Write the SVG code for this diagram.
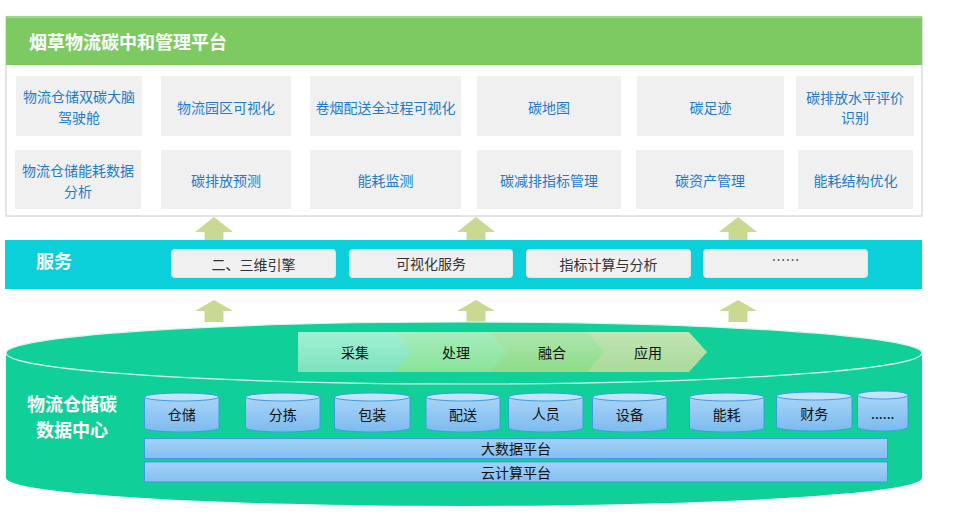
<svg xmlns="http://www.w3.org/2000/svg" width="966" height="523" viewBox="0 0 966 523">
<defs>
<linearGradient id="gCyl" x1="0" y1="0" x2="0" y2="1"><stop offset="0" stop-color="#a9d4f7"/><stop offset="1" stop-color="#7bbbee"/></linearGradient>
<linearGradient id="gBar" x1="0" y1="0" x2="0" y2="1"><stop offset="0" stop-color="#a3d2f8"/><stop offset="1" stop-color="#83bfef"/></linearGradient>
<linearGradient id="gC1" x1="0" y1="0" x2="0" y2="1"><stop offset="0" stop-color="#a2f0d3"/><stop offset="1" stop-color="#7de2bd"/></linearGradient>
<linearGradient id="gC2" x1="0" y1="0" x2="0" y2="1"><stop offset="0" stop-color="#a8edbe"/><stop offset="1" stop-color="#88e39a"/></linearGradient>
<linearGradient id="gC3" x1="0" y1="0" x2="0" y2="1"><stop offset="0" stop-color="#ade6ae"/><stop offset="1" stop-color="#8edc88"/></linearGradient>
<linearGradient id="gC4" x1="0" y1="0" x2="0" y2="1"><stop offset="0" stop-color="#c0e4b4"/><stop offset="1" stop-color="#a9db98"/></linearGradient>
</defs>
<style>
.mod{fill:#f0f0f0}
.mt{font-family:"Noto Sans CJK SC","Noto Sans",sans-serif;font-size:14px;fill:#1f7bcb;text-anchor:middle;dominant-baseline:central}
.svc{fill:#f0f0f0;stroke:#e6e6e6;stroke-width:1}
.st{font-family:"Noto Sans CJK SC","Noto Sans",sans-serif;font-size:14px;fill:#333;text-anchor:middle;dominant-baseline:central}
.bt{font-family:"Noto Sans CJK SC","Noto Sans",sans-serif;font-size:14px;fill:#111;text-anchor:middle;dominant-baseline:central}
.wt{font-family:"Noto Sans CJK SC","Noto Sans",sans-serif;font-weight:bold;fill:#fff;dominant-baseline:central}
.arr{fill:#c9d991}
.cyl{fill:url(#gCyl);stroke:#3d9ce0;stroke-width:1}
.cylt{fill:#c4e2fa;stroke:#3d9ce0;stroke-width:1}
.bar{fill:url(#gBar);stroke:#3d9ce0;stroke-width:1}
</style>

<g id="platform">
<rect x="6" y="16.5" width="916" height="199.5" fill="#fff" stroke="#dcdcdc" stroke-width="1.5"/>
<rect x="6" y="18" width="916" height="47" fill="#7dca63"/>
<line x1="6" y1="17" x2="922" y2="17" stroke="#86cf6d" stroke-width="1.5"/>
<text class="wt" x="29" y="41" font-size="18">烟草物流碳中和管理平台</text>
</g>

<g id="m1"><rect class="mod" x="16" y="76" width="126" height="60"/><text class="mt"><tspan x="79" y="96">物流仓储双碳大脑</tspan><tspan x="79" y="116.5">驾驶舱</tspan></text></g>
<g id="m2"><rect class="mod" x="161" y="76" width="130" height="60"/><text class="mt" x="226" y="107">物流园区可视化</text></g>
<g id="m3"><rect class="mod" x="310" y="76" width="151" height="60"/><text class="mt" x="385.5" y="107">卷烟配送全过程可视化</text></g>
<g id="m4"><rect class="mod" x="477" y="76" width="144" height="60"/><text class="mt" x="549" y="107">碳地图</text></g>
<g id="m5"><rect class="mod" x="637" y="76" width="147" height="60"/><text class="mt" x="710.5" y="107">碳足迹</text></g>
<g id="m6"><rect class="mod" x="796" y="76" width="118" height="60"/><text class="mt"><tspan x="855" y="96.5">碳排放水平评价</tspan><tspan x="855" y="117">识别</tspan></text></g>
<g id="m7"><rect class="mod" x="15" y="150" width="126" height="59"/><text class="mt"><tspan x="78" y="170">物流仓储能耗数据</tspan><tspan x="78" y="190.5">分析</tspan></text></g>
<g id="m8"><rect class="mod" x="161" y="150" width="130" height="59"/><text class="mt" x="226" y="180">碳排放预测</text></g>
<g id="m9"><rect class="mod" x="310" y="150" width="151" height="59"/><text class="mt" x="385.5" y="180">能耗监测</text></g>
<g id="m10"><rect class="mod" x="477" y="150" width="144" height="59"/><text class="mt" x="549" y="180">碳减排指标管理</text></g>
<g id="m11"><rect class="mod" x="636" y="150" width="148" height="59"/><text class="mt" x="710" y="180">碳资产管理</text></g>
<g id="m12"><rect class="mod" x="798" y="150" width="115" height="59"/><text class="mt" x="855.5" y="180">能耗结构优化</text></g>

<g id="service">
<rect x="5" y="240" width="917" height="49" fill="#0bd0d9"/>
<text class="wt" x="36" y="260" font-size="18">服务</text>
</g>
<g id="s1"><rect class="svc" x="171.5" y="249.5" width="164" height="28" rx="3"/><text class="st" x="253.5" y="264">二、三维引擎</text></g>
<g id="s2"><rect class="svc" x="349.5" y="249.5" width="163" height="28" rx="3"/><text class="st" x="431" y="263">可视化服务</text></g>
<g id="s3"><rect class="svc" x="526.5" y="249.5" width="164" height="28" rx="3"/><text class="st" x="608.5" y="264">指标计算与分析</text></g>
<g id="s4"><rect class="svc" x="703.5" y="249.5" width="164" height="28" rx="3"/><text class="st" x="785.5" y="259">……</text></g>

<g id="connectors">
<path class="arr" d="M214 217 L233 232 L223.5 232 L223.5 240 L204.5 240 L204.5 232 L195 232 Z"/>
<path class="arr" d="M476 217 L495 232 L485.5 232 L485.5 240 L466.5 240 L466.5 232 L457 232 Z"/>
<path class="arr" d="M738 217 L757 232 L747.5 232 L747.5 240 L728.5 240 L728.5 232 L719 232 Z"/>
<path class="arr" d="M214 300 L233 311 L223.5 311 L223.5 322 L204.5 322 L204.5 311 L195 311 Z"/>
<path class="arr" d="M476 300 L495 311 L485.5 311 L485.5 322 L466.5 322 L466.5 311 L457 311 Z"/>
<path class="arr" d="M738 300 L757 311 L747.5 311 L747.5 322 L728.5 322 L728.5 311 L719 311 Z"/>
</g>

<g id="datacenter">
<path d="M6 353 L6 478 A458 28 0 0 0 922 478 L922 353 Z" fill="#11cf98"/>
<ellipse cx="464" cy="353" rx="458" ry="31" fill="#11cf98" stroke="#d8f7ea" stroke-width="1.2"/>
<text class="wt" font-size="18" text-anchor="middle"><tspan x="72" y="403">物流仓储碳</tspan><tspan x="72" y="429">数据中心</tspan></text>
</g>

<g id="p1"><path d="M298 332 L397 332 L414 352 L397 372 L298 372 Z" fill="url(#gC1)"/><text class="bt" x="355" y="352">采集</text></g>
<g id="p2"><path d="M394 332 L493 332 L510 352 L493 372 L394 372 L411 352 Z" fill="url(#gC2)"/><text class="bt" x="456" y="352">处理</text></g>
<g id="p3"><path d="M490 332 L588 332 L605 352 L588 372 L490 372 L507 352 Z" fill="url(#gC3)"/><text class="bt" x="552" y="352">融合</text></g>
<g id="p4"><path d="M587 332 L689 332 L707 352 L689 372 L587 372 L604 352 Z" fill="url(#gC4)"/><text class="bt" x="648" y="352">应用</text></g>

<g id="c1"><path class="cyl" d="M144.5 397 L144.5 428 A37.25 4 0 0 0 219 428 L219 397 Z"/><ellipse class="cylt" cx="181.75" cy="397" rx="37.25" ry="4"/><text class="bt" x="181.75" y="414">仓储</text></g>
<g id="c2"><path class="cyl" d="M245.5 397 L245.5 428 A37.25 4 0 0 0 320 428 L320 397 Z"/><ellipse class="cylt" cx="282.75" cy="397" rx="37.25" ry="4"/><text class="bt" x="282.75" y="414">分拣</text></g>
<g id="c3"><path class="cyl" d="M334.5 397 L334.5 428 A37.75 4 0 0 0 410 428 L410 397 Z"/><ellipse class="cylt" cx="372.25" cy="397" rx="37.75" ry="4"/><text class="bt" x="372.25" y="414">包装</text></g>
<g id="c4"><path class="cyl" d="M426 397 L426 428 A37 4 0 0 0 500 428 L500 397 Z"/><ellipse class="cylt" cx="463" cy="397" rx="37" ry="4"/><text class="bt" x="463" y="414">配送</text></g>
<g id="c5"><path class="cyl" d="M508.5 397 L508.5 428 A37.25 4 0 0 0 583 428 L583 397 Z"/><ellipse class="cylt" cx="545.75" cy="397" rx="37.25" ry="4"/><text class="bt" x="545.75" y="413">人员</text></g>
<g id="c6"><path class="cyl" d="M592.5 397 L592.5 428 A37.25 4 0 0 0 667 428 L667 397 Z"/><ellipse class="cylt" cx="629.75" cy="397" rx="37.25" ry="4"/><text class="bt" x="629.75" y="414">设备</text></g>
<g id="c7"><path class="cyl" d="M689.5 397 L689.5 428 A37.25 4 0 0 0 764 428 L764 397 Z"/><ellipse class="cylt" cx="726.75" cy="397" rx="37.25" ry="4"/><text class="bt" x="726.75" y="414">能耗</text></g>
<g id="c8"><path class="cyl" d="M776.5 396 L776.5 427 A37.75 4 0 0 0 852 427 L852 396 Z"/><ellipse class="cylt" cx="814.25" cy="396" rx="37.75" ry="4"/><text class="bt" x="814.25" y="413">财务</text></g>
<g id="c9"><path class="cyl" d="M857.5 395 L857.5 427 A25.25 4 0 0 0 908 427 L908 395 Z"/><ellipse class="cylt" cx="882.75" cy="395" rx="25.25" ry="4"/><text class="bt" x="882.75" y="413" font-family="Liberation Sans,sans-serif">......</text></g>

<g id="bigdata"><rect class="bar" x="144.5" y="438.5" width="743" height="20"/><text class="bt" x="516" y="448">大数据平台</text></g>
<g id="cloud"><rect class="bar" x="144.5" y="462" width="743" height="20"/><text class="bt" x="516" y="471.5">云计算平台</text></g>
</svg>
